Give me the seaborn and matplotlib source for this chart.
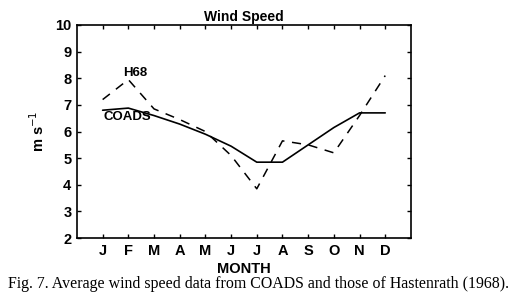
import numpy as np
import pandas as pd
import matplotlib
matplotlib.use("Agg")
import matplotlib.pyplot as plt
import seaborn as sns

# data
month_num = list(range(1, 13))
month_lbl = ['J', 'F', 'M', 'A', 'M', 'J', 'J', 'A', 'S', 'O', 'N', 'D']
coads = [6.8, 6.88, 6.6, 6.28, 5.9, 5.45, 4.85, 4.85, 5.5, 6.15, 6.7, 6.7]
h68 = [7.2, 7.95, 6.85, 6.45, 6.0, 5.1, 3.85, 5.65, 5.5, 5.2, 6.6, 8.1]

df = pd.DataFrame({'month': month_num, 'COADS': coads, 'H68': h68})

sns.set_style('ticks')
plt.rcParams['font.family'] = ['Liberation Sans', 'DejaVu Sans']
plt.rcParams['text.color'] = 'black'
plt.rcParams['axes.labelcolor'] = 'black'
plt.rcParams['xtick.color'] = 'black'
plt.rcParams['ytick.color'] = 'black'

fig = plt.figure(figsize=(5.13, 3.01), dpi=100)
ax = fig.add_axes([0.150, 0.209, 0.651, 0.708])

sns.lineplot(data=df, x='month', y='COADS', color='black', lw=1.2, ax=ax)
sns.lineplot(data=df, x='month', y='H68', color='black', lw=1.1, ax=ax)
ax.lines[1].set_linestyle((0, (6, 5)))

ax.set_xlim(0, 13)
ax.set_ylim(2, 10)
ax.set_xticks(month_num)
ax.set_xticklabels(month_lbl)
ax.set_yticks(range(2, 11))
ax.tick_params(direction='in', length=3, width=1, top=True, right=True,
               labelsize=10.5, pad=4)
for t in ax.get_xticklabels() + ax.get_yticklabels():
    t.set_fontweight('bold')
for s in ax.spines.values():
    s.set_linewidth(1.2)
    s.set_color('black')

ax.set_xlabel('MONTH', fontsize=10.5, fontweight='bold', labelpad=3)
ax.set_ylabel('m s$^{-1}$', fontsize=10.5, fontweight='bold', labelpad=6)
ax.set_title('Wind Speed', fontsize=10, fontweight='bold', pad=3)

ax.text(2.26, 8.2, 'H68', fontsize=9.5, fontweight='bold', ha='center', va='center')
ax.text(1.97, 6.53, 'COADS', fontsize=9.5, fontweight='bold', ha='center', va='center')

fig.text(0.504, 0.055,
         'Fig. 7. Average wind speed data from COADS and those of Hastenrath (1968).',
         family=['Liberation Serif'], fontsize=11.4, ha='center', va='center')

fig.savefig('out.png', dpi=100)
